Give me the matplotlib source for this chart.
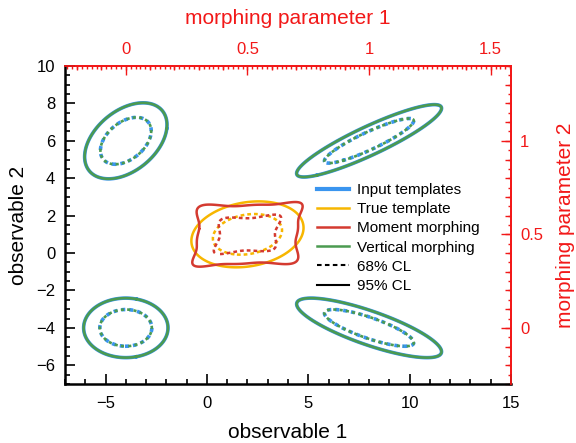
import numpy as np
import matplotlib
matplotlib.use("Agg")
import matplotlib.pyplot as plt
from matplotlib.lines import Line2D
from matplotlib.ticker import MultipleLocator, FixedLocator, NullFormatter, FuncFormatter

plt.rcParams['font.family'] = ['Liberation Sans', 'DejaVu Sans']

# Input templates at the corners of the morphing grid (param1, param2)
tmpl_p1 = [0.0, 1.0, 0.0, 1.0]
tmpl_p2 = [0.0, 0.0, 1.0, 1.0]
tmpl_mx = [-4.0, 8.0, -4.0, 8.0]
tmpl_my = [-4.0, -4.0, 6.0, 6.0]
tmpl_sx = [0.85, 1.46, 0.83, 1.46]
tmpl_sy = [0.65, 0.65, 0.83, 0.79]
tmpl_rho = [0.0, -0.8, 0.42, 0.9]

# True template at the morphing point (0.5, 0.5)
true_mx, true_my = 2.0, 1.0
true_sx, true_sy, true_rho = 1.13, 0.72, 0.2

cl_probs = [0.95, 0.68]

top_ticks = [0, 0.5, 1, 1.5]
right_ticks = [0, 0.5, 1]

C_BLUE = '#3a95ef'
C_ORANGE = '#f7b600'
C_RED = '#d43a30'
C_GREEN = '#4b9a50'
C_AXRED = '#f21818'

gx = np.linspace(-7, 15, 1101)
gy = np.linspace(-7, 10, 851)
X, Y = np.meshgrid(gx, gy)


def gauss2d(mx, my, sx, sy, rho):
    dx = (X - mx) / sx
    dy = (Y - my) / sy
    q = (dx**2 - 2 * rho * dx * dy + dy**2) / (1 - rho**2)
    return np.exp(-0.5 * q) / (2 * np.pi * sx * sy * np.sqrt(1 - rho**2))


def hpd_levels(Z, probs):
    z = np.sort(Z.ravel())[::-1]
    c = np.cumsum(z)
    c /= c[-1]
    return sorted(z[np.searchsorted(c, p)] for p in probs)


fig = plt.figure(figsize=(5.76, 4.43), dpi=100)
ax = fig.add_axes([65 / 576, 1 - 384 / 443, 446 / 576, 318 / 443])
ax.set_xlim(-7, 15)
ax.set_ylim(-7, 10)


def draw(Z, color, lw, dash, zorder):
    lev = hpd_levels(Z, cl_probs)
    ax.contour(X, Y, Z, levels=lev, colors=[color, color],
               linewidths=[lw, lw], linestyles=['solid', dash], zorder=zorder)


# Input templates
for i in range(4):
    Z = gauss2d(tmpl_mx[i], tmpl_my[i], tmpl_sx[i], tmpl_sy[i], tmpl_rho[i])
    draw(Z, C_BLUE, 2.6, (0, (1.1, 1.1)), 2)

# True template
Zt = gauss2d(true_mx, true_my, true_sx, true_sy, true_rho)
draw(Zt, C_ORANGE, 1.8, (0, (1.5, 1.2)), 3)

# Moment morphing: each template shifted/scaled to the interpolated moments
w = [(1 - 0.5) * (1 - 0.5)] * 4
mx_m = sum(wi * m for wi, m in zip(w, tmpl_mx))
my_m = sum(wi * m for wi, m in zip(w, tmpl_my))
sx_m = sum(wi * s for wi, s in zip(w, tmpl_sx))
sy_m = sum(wi * s for wi, s in zip(w, tmpl_sy))
Zm = sum(wi * gauss2d(mx_m, my_m, sx_m, sy_m, r) for wi, r in zip(w, tmpl_rho))
draw(Zm, C_RED, 1.8, (1.5, (1.5, 1.2)), 4)

# Vertical morphing reproduces the input templates
for i in range(4):
    Z = gauss2d(tmpl_mx[i], tmpl_my[i], tmpl_sx[i], tmpl_sy[i], tmpl_rho[i])
    draw(Z, C_GREEN, 1.9, (1.2, (1.2, 1.2)), 5)

# Main axes styling
for s in ['left', 'bottom']:
    ax.spines[s].set_linewidth(1.8)
    ax.spines[s].set_color('black')
for s in ['top', 'right']:
    ax.spines[s].set_linewidth(1.3)
    ax.spines[s].set_color(C_AXRED)
    ax.spines[s].set_zorder(10)
ax.xaxis.set_major_locator(MultipleLocator(5))
ax.xaxis.set_minor_locator(MultipleLocator(1))
ax.yaxis.set_major_locator(MultipleLocator(2))
ax.yaxis.set_minor_locator(MultipleLocator(0.5))
ax.tick_params(which='both', direction='in', top=False, right=False,
               labelsize=12, width=1.2, color='black')
ax.tick_params(axis='x', which='major', length=7, pad=9)
ax.tick_params(axis='y', which='major', length=7, pad=7)
ax.tick_params(which='minor', length=3.5)
ax.set_xlabel('observable 1', fontsize=15, labelpad=8)
ax.set_ylabel('observable 2', fontsize=15, labelpad=6)

# Secondary morphing-parameter axes
f1 = (lambda x: (x + 4) / 12, lambda p: 12 * p - 4)
f2 = (lambda y: (y + 4) / 10, lambda p: 10 * p - 4)
fmt = FuncFormatter(lambda v, _: f'{v:g}')

top = ax.secondary_xaxis('top', functions=f1)
top.xaxis.set_major_locator(FixedLocator(top_ticks))
top.xaxis.set_major_formatter(fmt)
top.xaxis.set_minor_locator(MultipleLocator(0.02))
top.tick_params(which='both', direction='in', colors=C_AXRED, labelsize=12,
                width=1.0)
top.tick_params(which='major', length=6.5, pad=6.5)
top.tick_params(which='minor', length=1.8)
top.spines['top'].set_color(C_AXRED)
top.spines['top'].set_linewidth(1.3)
top.set_xlabel('morphing parameter 1', fontsize=15, color=C_AXRED,
               labelpad=13)

top2 = ax.secondary_xaxis('top', functions=f1)
top2.xaxis.set_major_locator(MultipleLocator(0.1))
top2.xaxis.set_major_formatter(NullFormatter())
top2.tick_params(which='major', direction='in', colors=C_AXRED, length=3.2,
                 width=1.0)
top2.spines['top'].set_visible(False)

right = ax.secondary_yaxis('right', functions=f2)
right.yaxis.set_major_locator(FixedLocator(right_ticks))
right.yaxis.set_major_formatter(fmt)
right.yaxis.set_minor_locator(MultipleLocator(0.05))
right.tick_params(which='both', direction='in', colors=C_AXRED, labelsize=12,
                  width=1.0)
right.tick_params(which='major', length=7, pad=6.5)
right.tick_params(which='minor', length=2.5)
right.spines['right'].set_color(C_AXRED)
right.spines['right'].set_linewidth(1.3)
right.set_ylabel('morphing parameter 2', fontsize=15, color=C_AXRED,
                 labelpad=9)

right2 = ax.secondary_yaxis('right', functions=f2)
right2.yaxis.set_major_locator(MultipleLocator(0.1))
right2.yaxis.set_major_formatter(NullFormatter())
right2.tick_params(which='major', direction='in', colors=C_AXRED, length=4,
                   width=1.0)
right2.spines['right'].set_visible(False)

# Legend
handles = [
    Line2D([], [], color=C_BLUE, lw=3),
    Line2D([], [], color=C_ORANGE, lw=1.8),
    Line2D([], [], color=C_RED, lw=1.8),
    Line2D([], [], color=C_GREEN, lw=1.8),
    Line2D([], [], color='black', lw=1.5, ls=(0, (2.2, 1.6))),
    Line2D([], [], color='black', lw=1.5),
]
labels = ['Input templates', 'True template', 'Moment morphing',
          'Vertical morphing', '68% CL', '95% CL']
ax.legend(handles, labels, loc='upper left',
          bbox_to_anchor=((317 - 65) / 446, (384 - 183) / 318),
          frameon=False, fontsize=11, handlelength=2.1, handletextpad=0.52,
          labelspacing=0.34, borderpad=0, borderaxespad=0)

fig.savefig('out.png', dpi=100)
